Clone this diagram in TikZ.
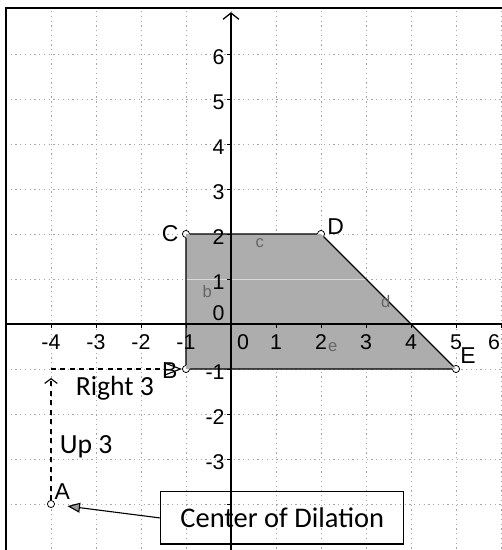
\documentclass[tikz,border=0pt]{standalone}
\usepackage{fontspec}
\setmainfont{Liberation Sans}
\newfontfamily\calibrifont{Carlito}
\usetikzlibrary{positioning, calc, arrows.meta}

\begin{document}
\begin{tikzpicture}[
  gridline/.style={black!35, dash pattern=on 0.8pt off 2.2pt, line width=0.5pt},
  axisline/.style={black, line width=0.8pt},
  edgeline/.style={black, line width=0.7pt},
  vertex/.style={circle, draw, fill=white, inner sep=0pt, minimum size=4.5pt, line width=0.5pt},
  ticklabel/.style={font=\fontsize{13.5}{15}\selectfont, inner sep=1pt},
  ptlabel/.style={font=\fontsize{14.5}{16}\selectfont, inner sep=1pt},
  sidelabel/.style={font=\fontsize{10.5}{12}\selectfont, text=black!60, inner sep=0pt},
  steplabel/.style={font=\calibrifont\fontsize{17.5}{20}\selectfont, inner sep=1pt},
  callout/.style={draw, line width=0.8pt, font=\calibrifont\fontsize{18}{20}\selectfont,
    minimum width=5.4cm, minimum height=1.16cm}
]
\useasboundingbox (-5.133,-5.022) rectangle (6.022,7.2);
\clip (-5.133,-5.022) rectangle (6.022,7.2);

% grid
\foreach \x in {-4,...,6}
  \draw[gridline] (\x,-5.2) -- (\x,7.02);
\foreach \y in {-4,...,6}
  \draw[gridline] (-5,\y) -- (6.2,\y);

% frame
\draw[line width=1.2pt] (-5,-5.2) -- (-5,7.02) -- (6.2,7.02);

% vertices
\node[vertex] (C) at (-1,2) {};
\node[vertex] (D) at (2,2) {};
\node[vertex] (E) at (5,-1) {};
\node[vertex] (B) at (-1,-1) {};
\node[vertex] (A) at (-4,-4) {};

% shaded figure
\fill[black!32] (C.center) -- (D.center) -- (E.center) -- (B.center) -- cycle;
\draw[white!85!black, line width=0.6pt] (-1,1) -- (3,1);

% axes
\draw[axisline, -{Straight Barb[length=4pt,width=10pt]}] (0,-5.2) -- (0,6.93);
\draw[axisline] (-5,0) -- (6.2,0);
\foreach \y in {-4,...,6}
  \draw[axisline, line width=0.5pt] (0,\y) -- (-0.08,\y);
\foreach \x in {-4,...,6}
  \draw[axisline, line width=0.5pt] (\x,0) -- (\x,-0.08);

% tick labels
\foreach \x in {-4,-3,-2,-1,1,2,3,4,5}
  \node[ticklabel] (xl\x) at (\x,-0.4) {\ifnum\x<0 -\the\numexpr-\x\relax\else\x\fi};
\node[ticklabel] (xl0) at (0.27,-0.4) {0};
\node[ticklabel, anchor=east] (xl6) at (6.022,-0.4) {6};
\foreach \y in {-3,-2,-1,1,2,3,4,5,6}
  \node[ticklabel, anchor=east] (yl\y) at (-0.1,\y-0.07) {\ifnum\y<0 -\the\numexpr-\y\relax\else\y\fi};
\node[ticklabel, anchor=east] (yl0) at (-0.1,0.24) {0};

% edges
\draw[edgeline] (C) -- (D) -- (E) -- (B) -- (C);

% point labels
\node[ptlabel, left=1pt of C] (Clab) {C};
\node[ptlabel, above right=-3pt and 1pt of D] (Dlab) {D};
\node[ptlabel] (Elab) at (5.27,-0.71) {E};
\node[ptlabel] (Blab) at (-1.36,-1.04) {B};
\node[ptlabel] (Alab) at (-3.75,-3.72) {A};

% side labels
\node[sidelabel] (clab) at (0.64,1.8) {c};
\node[sidelabel] (blab) at (-0.53,0.71) {b};
\node[sidelabel] (dlab) at (3.44,0.49) {d};
\node[sidelabel] (elab) at (2.26,-0.52) {e};

% translation steps
\coordinate (corner) at (-4,-1);
\draw[dashed, line width=0.7pt, -{Straight Barb[length=3pt,width=8pt]}, shorten >=0.2cm] (A) -- (corner);
\draw[dashed, line width=0.7pt, -{Triangle[open, length=0.4cm, width=0.3cm]}] (corner) -- (B);
\node[steplabel] (right3) at (-2.58,-1.42) {Right 3};
\node[steplabel] (up3) at (-3.22,-2.73) {Up 3};

% callout
\node[callout] (cod) at (1.14,-4.31) {Center of Dilation};
\draw[line width=0.7pt, -{Triangle[fill=black!40, length=0.28cm, width=0.22cm]}, shorten >=0.28cm] (cod.west) -- (A);
\end{tikzpicture}
\end{document}
